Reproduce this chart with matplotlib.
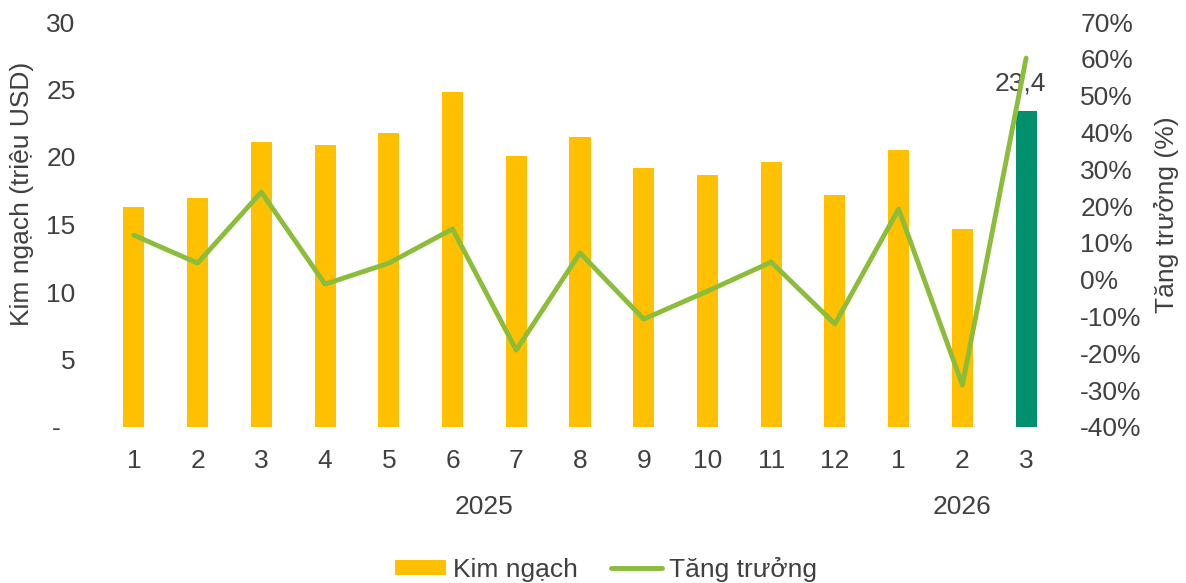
import matplotlib.pyplot as plt
import matplotlib.transforms as mtransforms
from matplotlib.ticker import FuncFormatter

plt.rcParams['font.family'] = ['Liberation Sans', 'DejaVu Sans']
plt.rcParams['font.size'] = 19
text_color = '#404040'

# du lieu
thang = ['1', '2', '3', '4', '5', '6', '7', '8', '9', '10', '11', '12', '1', '2', '3']
kim_ngach = [16.3, 17.0, 21.1, 20.9, 21.8, 24.8, 20.1, 21.5, 19.2, 18.7, 19.6, 17.2, 20.5, 14.7, 23.4]
tang_truong = [12.1, 4.5, 23.8, -1.2, 4.5, 13.8, -19.1, 7.3, -10.7, -3.1, 4.8, -12.0, 19.2, -28.6, 60.2]
nam = ['2025', '2026']
nam_vi_tri = [5.5, 13]

bar_colors = ['#FFC000'] * (len(kim_ngach) - 1) + ['#00906E']
x = list(range(len(thang)))

fig = plt.figure(figsize=(11.86, 5.83), dpi=100)
ax = fig.add_axes([102 / 1186, 1 - 427 / 583, (1058 - 102) / 1186, (427 - 22) / 583])
ax2 = ax.twinx()

bars = ax.bar(x, kim_ngach, width=0.33, color=bar_colors, label='Kim ngạch', zorder=2)
# nhan so lieu cot cuoi
ax.annotate('23,4', (x[-1], kim_ngach[-1]), xytext=(-4, 11), textcoords='offset points',
            ha='center', va='bottom', color=text_color)
line, = ax2.plot(x, tang_truong, color='#8BBD3A', lw=3.5, solid_capstyle='round',
                 label='Tăng trưởng', zorder=3)
ax.set_zorder(ax2.get_zorder() - 1)
ax.patch.set_visible(False)

ax.set_xlim(-0.5, len(thang) - 0.5)
ax.set_ylim(0, 30)
ax.set_yticks(range(0, 31, 5))
ax.yaxis.set_major_formatter(FuncFormatter(lambda v, p: '-  ' if v == 0 else f'{v:.0f}'))
ax2.set_ylim(-40, 70)
ax2.set_yticks(range(-40, 71, 10))
ax2.yaxis.set_major_formatter(FuncFormatter(lambda v, p: f'{v:.0f}%'))

ax.set_xticks(x)
ax.set_xticklabels(thang)
for a in (ax, ax2):
    for s in a.spines.values():
        s.set_visible(False)
    a.tick_params(length=0, colors=text_color, labelsize=19)
ax.tick_params(axis='x', pad=16)
ax.tick_params(axis='y', pad=19)
ax2.tick_params(axis='y', pad=16)

ax.set_ylabel('Kim ngạch (triệu USD)', color=text_color)
ax.yaxis.set_label_coords(-0.071, 0.575)
ax2.set_ylabel('Tăng trưởng (%)', color=text_color)
ax2.yaxis.set_label_coords(1.1, 0.525)

trans = mtransforms.blended_transform_factory(ax.transData, fig.transFigure)
for n, vt in zip(nam, nam_vi_tri):
    ax.text(vt, 1 - 507 / 583, n, transform=trans, ha='center', va='center', color=text_color)

fig.legend(handles=[bars, line], labels=['Kim ngạch', 'Tăng trưởng'], loc='center',
           bbox_to_anchor=(606 / 1186, 1 - 569 / 583), ncol=2, frameon=False,
           labelcolor=text_color, handlelength=1.95, columnspacing=1.25, handletextpad=0.25,
           handleheight=0.5)

fig.savefig('out.png', dpi=100)
